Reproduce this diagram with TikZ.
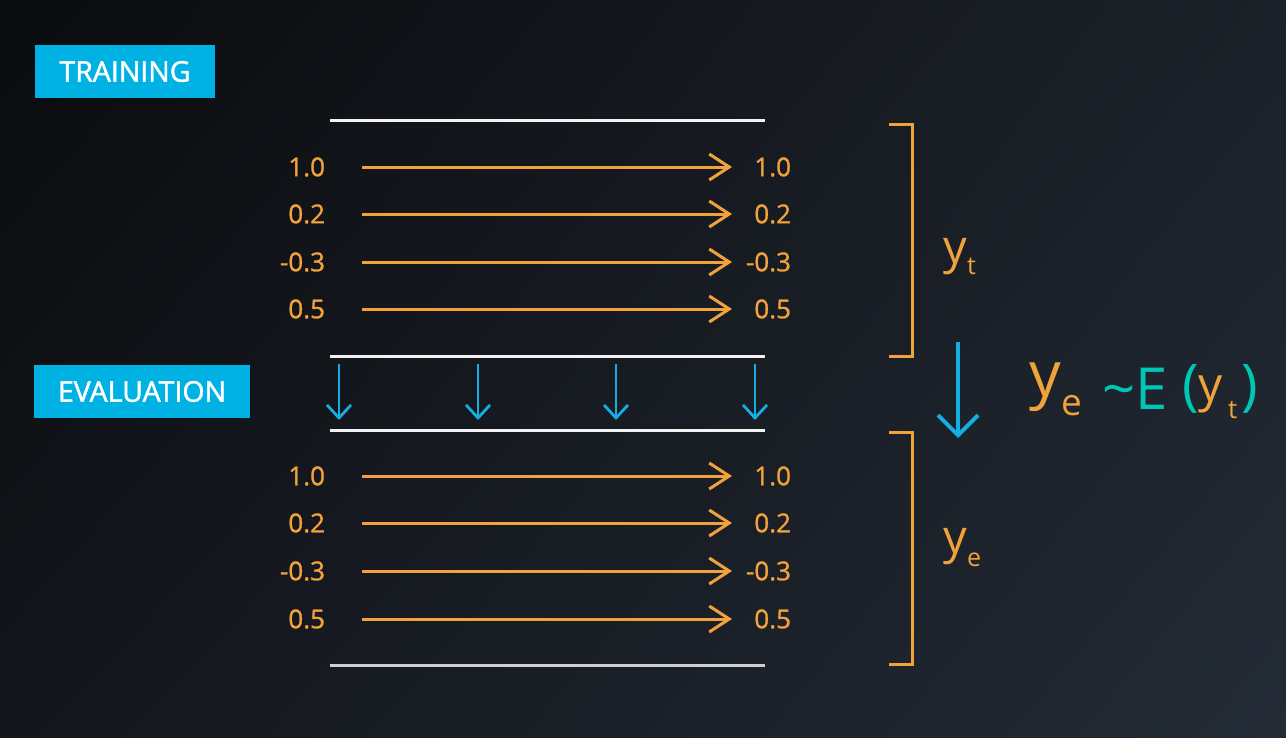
\documentclass[tikz,border=0pt]{standalone}
\usepackage{fontspec}
\setmainfont{Open Sans}
\newfontfamily\semi{Open Sans}[FakeBold=1.6]
\newfontfamily\medi{Open Sans}[FakeBold=1.1]
\usetikzlibrary{arrows.meta,shadings}
\definecolor{orng}{HTML}{F2A23A}
\definecolor{boxblue}{HTML}{00B2E3}
\definecolor{arrblue}{HTML}{14AEE2}
\definecolor{teal}{HTML}{00C6B4}
\definecolor{bgUL}{HTML}{0A0B0E}
\definecolor{bgUR}{HTML}{1C2129}
\definecolor{bgLL}{HTML}{13161B}
\definecolor{bgLR}{HTML}{232B36}
\definecolor{linewhite}{HTML}{F2F2F2}
\definecolor{linegray}{HTML}{CFCFCF}
\tikzset{
  tag/.style={fill=boxblue, text=white, inner sep=0pt, font=\semi\fontsize{28.5}{30}\selectfont},
  num/.style={text=orng, inner sep=0pt, outer sep=0pt, anchor=east, font=\medi\fontsize{26}{30}\selectfont},
  flow/.style={draw=orng, line width=3pt, -{Straight Barb[length=20pt,width=26pt,line width=3pt]}},
  pass/.style={draw=arrblue, line width=2.8pt, -{Straight Barb[length=13pt,width=24pt,line width=2.8pt]}},
  bigpass/.style={draw=arrblue, line width=4pt, -{Straight Barb[length=20pt,width=40pt,line width=4pt]}},
  rule/.style={draw=linewhite, line width=3pt},
  brack/.style={draw=orng, line width=3pt},
  sym/.style={inner sep=0pt, outer sep=0pt, anchor=base west, font=\medi},
}
\begin{document}
\begin{tikzpicture}[x=1pt,y=-1pt]
\useasboundingbox (0,0) rectangle (1286,737);
\shade[upper left=bgUL, upper right=bgUR, lower left=bgLL, lower right=bgLR] (0,0) rectangle (1286,737);

% labels
\node[tag, minimum width=180pt, minimum height=53pt] (train) at (125,71.5) {TRAINING};
\node[tag, minimum width=216pt, minimum height=53pt] (eval) at (142,391.5) {EVALUATION};

% horizontal rules
\coordinate (r1a) at (330,120); \coordinate (r1b) at (765,120);
\coordinate (r2a) at (330,356); \coordinate (r2b) at (765,356);
\coordinate (r3a) at (330,430); \coordinate (r3b) at (765,430);
\coordinate (r4a) at (330,665); \coordinate (r4b) at (765,665);
\draw[rule] (r1a) -- (r1b);
\draw[rule] (r2a) -- (r2b);
\draw[rule] (r3a) -- (r3b);
\draw[rule, draw=linegray] (r4a) -- (r4b);

% value rows
\foreach \i/\yy/\v in {1/167/1.0, 2/214/0.2, 3/262/-0.3, 4/309/0.5, 5/476/1.0, 6/523/0.2, 7/571/-0.3, 8/619/0.5}{
  \node[num] (L\i) at (325,\yy) {\v};
  \node[num] (R\i) at (791,\yy) {\v};
  \coordinate (s\i) at (362,\yy);
  \coordinate (e\i) at (732,\yy);
  \draw[flow] (s\i) -- (e\i);
}

% blue down arrows
\foreach \j/\xx in {1/339, 2/478, 3/616, 4/755}{
  \coordinate (d\j a) at (\xx,364);
  \coordinate (d\j b) at (\xx,420);
  \draw[pass] (d\j a) -- (d\j b);
}

% brackets
\coordinate (b1a) at (889,124); \coordinate (b1b) at (912,124);
\coordinate (b1c) at (912,356); \coordinate (b1d) at (889,356);
\draw[brack] (b1a) -- (b1b) -- (b1c) -- (b1d);
\coordinate (b2a) at (889,432); \coordinate (b2b) at (912,432);
\coordinate (b2c) at (912,664); \coordinate (b2d) at (889,664);
\draw[brack] (b2a) -- (b2b) -- (b2c) -- (b2d);

% big arrow
\coordinate (ba) at (958,342);
\coordinate (bb) at (958,438);
\draw[bigpass] (ba) -- (bb);

% y_t and y_e
\node[sym, text=orng, font=\fontsize{47}{50}\selectfont] (yt) at (943,263) {y};
\node[sym, text=orng, font=\fontsize{25}{28}\selectfont] (ytsub) at (967,274) {t};
\node[sym, text=orng, font=\fontsize{47}{50}\selectfont] (ye) at (943,553) {y};
\node[sym, text=orng, font=\fontsize{25}{28}\selectfont] (yesub) at (967,566) {e};

% formula
\node[sym, text=orng, font=\fontsize{63}{66}\selectfont] (fy) at (1029,396) {y};
\node[sym, text=orng, font=\fontsize{37}{40}\selectfont] (fe) at (1061,415) {e};
\node[sym, text=teal, font=\fontsize{58}{60}\selectfont] (fE) at (1102,409) {\char`\~E};
\node[sym, text=teal, font=\fontsize{56}{60}\selectfont] (fl) at (1182,404) {(};
\node[sym, text=orng, font=\fontsize{48}{54}\selectfont] (fy2) at (1198,401) {y};
\node[sym, text=orng, font=\fontsize{26}{30}\selectfont] (ft) at (1228,418) {t};
\node[sym, text=teal, font=\fontsize{56}{60}\selectfont] (fr) at (1241,404) {)};
\end{tikzpicture}
\end{document}
